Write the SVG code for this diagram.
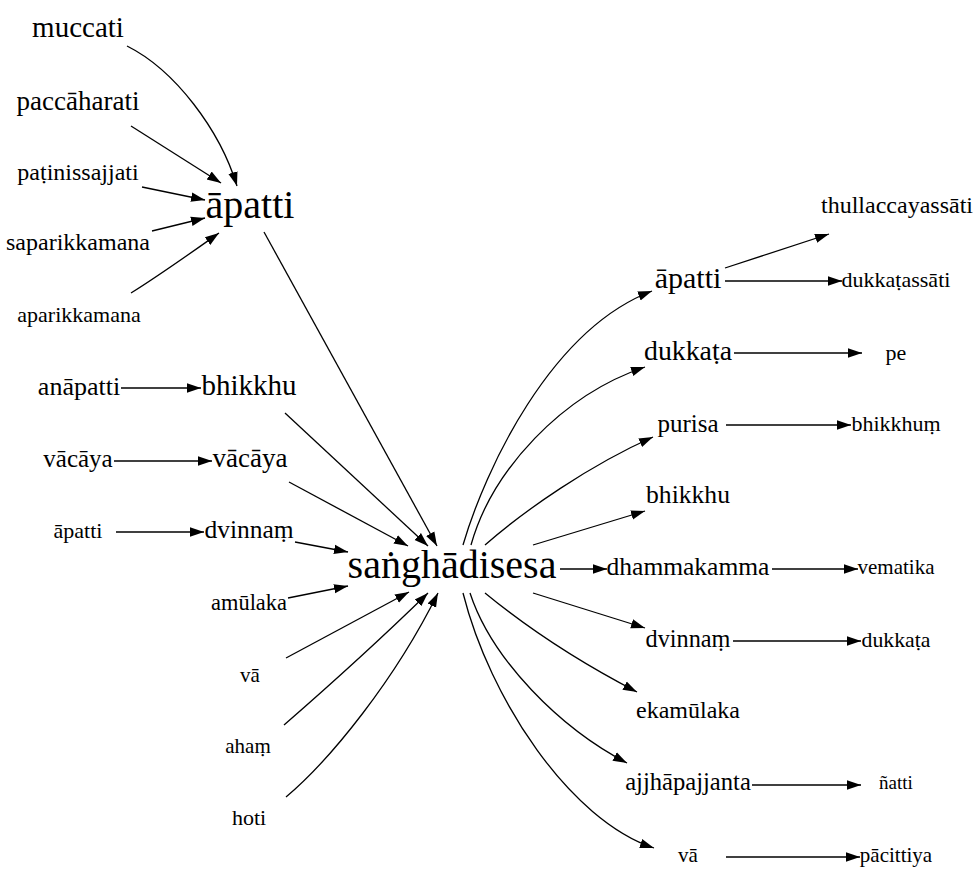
<svg xmlns="http://www.w3.org/2000/svg" width="980" height="887" viewBox="0 0 980 887">
<style>
.e path{fill:none;stroke:#000;stroke-width:1.3}
.n text{font-family:'Times New Roman','Liberation Serif',serif;text-anchor:middle;fill:#000}
</style>
<defs>
<marker id="ah" markerUnits="userSpaceOnUse" markerWidth="16" markerHeight="12" viewBox="0 -6 16 12" refX="14" refY="0" orient="auto">
<path d="M0,-4.7 L14,0 L0,4.7 Z" fill="#000"/>
</marker>
</defs>
<rect width="980" height="887" fill="#fff"/>
<g class="e" id="edges">
<path marker-end="url(#ah)" d="M127,46 C175,70 220,130 237,186"/>
<path marker-end="url(#ah)" d="M131,126 L221,183"/>
<path marker-end="url(#ah)" d="M142,187 L205,200"/>
<path marker-end="url(#ah)" d="M152,231 L205,218"/>
<path marker-end="url(#ah)" d="M131,293 C160,275 195,250 219,233"/>
<path marker-end="url(#ah)" d="M264,232 L437,546"/>
<path marker-end="url(#ah)" d="M121,388 L201,388"/>
<path marker-end="url(#ah)" d="M285,413 L428,546"/>
<path marker-end="url(#ah)" d="M114,461 L212,461"/>
<path marker-end="url(#ah)" d="M289,482 L408,546"/>
<path marker-end="url(#ah)" d="M116,532 L204,532"/>
<path marker-end="url(#ah)" d="M295,542 L348,552"/>
<path marker-end="url(#ah)" d="M288,598 L348,586"/>
<path marker-end="url(#ah)" d="M286,658 L409,592"/>
<path marker-end="url(#ah)" d="M284,725 C330,685 390,630 428,593"/>
<path marker-end="url(#ah)" d="M286,797 C330,760 395,680 438,593"/>
<path marker-end="url(#ah)" d="M463,545 C485,470 550,330 652,291"/>
<path marker-end="url(#ah)" d="M471,545 C492,470 562,395 645,367"/>
<path marker-end="url(#ah)" d="M485,545 C525,510 590,465 653,437"/>
<path marker-end="url(#ah)" d="M533,545 L645,511"/>
<path marker-end="url(#ah)" d="M560,569 L607,569"/>
<path marker-end="url(#ah)" d="M533,593 L645,628"/>
<path marker-end="url(#ah)" d="M485,593 C530,630 585,665 637,692"/>
<path marker-end="url(#ah)" d="M470,593 C492,660 560,728 627,763"/>
<path marker-end="url(#ah)" d="M463,593 C490,700 570,820 654,848"/>
<path marker-end="url(#ah)" d="M725,268 L829,234"/>
<path marker-end="url(#ah)" d="M725,281 L842,281"/>
<path marker-end="url(#ah)" d="M734,353 L862,353"/>
<path marker-end="url(#ah)" d="M726,425 L851,425"/>
<path marker-end="url(#ah)" d="M772,569 L858,569"/>
<path marker-end="url(#ah)" d="M733,641 L861,641"/>
<path marker-end="url(#ah)" d="M752,785 L861,785"/>
<path marker-end="url(#ah)" d="M726,857 L860,857"/>
</g>
<g class="n" id="n_muccati"><text x="78" y="37" font-size="29">muccati</text></g>
<g class="n" id="n_paccaharati"><text x="78" y="110" font-size="27">paccāharati</text></g>
<g class="n" id="n_patinissajjati"><text x="78" y="180" font-size="24">paṭinissajjati</text></g>
<g class="n" id="n_saparikkamana"><text x="78" y="250" font-size="24">saparikkamana</text></g>
<g class="n" id="n_aparikkamana"><text x="79" y="322" font-size="22">aparikkamana</text></g>
<g class="n" id="n_apatti1"><text x="250" y="218" font-size="40">āpatti</text></g>
<g class="n" id="n_anapatti"><text x="79" y="395" font-size="26">anāpatti</text></g>
<g class="n" id="n_bhikkhu1"><text x="249" y="395" font-size="29">bhikkhu</text></g>
<g class="n" id="n_vacaya1"><text x="78" y="467" font-size="25">vācāya</text></g>
<g class="n" id="n_vacaya2"><text x="250" y="467" font-size="27">vācāya</text></g>
<g class="n" id="n_apatti2"><text x="78" y="538" font-size="22">āpatti</text></g>
<g class="n" id="n_dvinnam1"><text x="249" y="538" font-size="25.5">dvinnaṃ</text></g>
<g class="n" id="n_amulaka"><text x="249" y="610" font-size="22.4">amūlaka</text></g>
<g class="n" id="n_va1"><text x="250" y="682" font-size="21">vā</text></g>
<g class="n" id="n_aham"><text x="248" y="753" font-size="21">ahaṃ</text></g>
<g class="n" id="n_hoti"><text x="249" y="825" font-size="22">hoti</text></g>
<g class="n" id="n_sanghadisesa"><text x="452" y="578" font-size="40">saṅghādisesa</text></g>
<g class="n" id="n_apatti3"><text x="688" y="288" font-size="30">āpatti</text></g>
<g class="n" id="n_thullaccayassati"><text x="897" y="213" font-size="24">thullaccayassāti</text></g>
<g class="n" id="n_dukkatassati"><text x="896" y="287" font-size="22">dukkaṭassāti</text></g>
<g class="n" id="n_dukkata1"><text x="688" y="360" font-size="27.8">dukkaṭa</text></g>
<g class="n" id="n_pe"><text x="896" y="360" font-size="22">pe</text></g>
<g class="n" id="n_purisa"><text x="688" y="432" font-size="25">purisa</text></g>
<g class="n" id="n_bhikkhum"><text x="896" y="431" font-size="22">bhikkhuṃ</text></g>
<g class="n" id="n_bhikkhu2"><text x="688" y="503" font-size="25.6">bhikkhu</text></g>
<g class="n" id="n_dhammakamma"><text x="688" y="575" font-size="25.5">dhammakamma</text></g>
<g class="n" id="n_vematika"><text x="896" y="574" font-size="21">vematika</text></g>
<g class="n" id="n_dvinnam2"><text x="688" y="647" font-size="24.3">dvinnaṃ</text></g>
<g class="n" id="n_dukkata2"><text x="896" y="647" font-size="21.8">dukkaṭa</text></g>
<g class="n" id="n_ekamulaka"><text x="688" y="718" font-size="24">ekamūlaka</text></g>
<g class="n" id="n_ajjhapajjanta"><text x="688" y="790" font-size="24.6">ajjhāpajjanta</text></g>
<g class="n" id="n_natti"><text x="896" y="789" font-size="19">ñatti</text></g>
<g class="n" id="n_va2"><text x="688" y="862" font-size="21">vā</text></g>
<g class="n" id="n_pacittiya"><text x="896" y="862" font-size="21">pācittiya</text></g>
</svg>
